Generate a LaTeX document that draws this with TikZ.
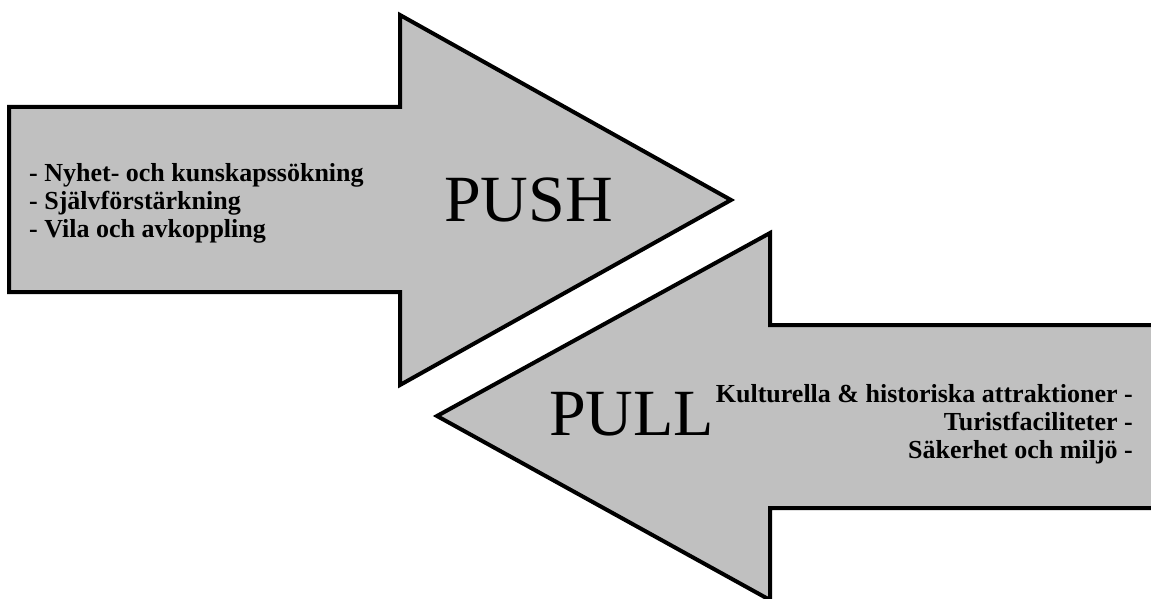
\documentclass[tikz,border=0pt]{standalone}
\usepackage{fontspec}
\setmainfont{Liberation Serif}
\definecolor{arrowgray}{RGB}{192,192,192}
\tikzset{
  bigarrow/.style={fill=arrowgray, draw=black, line width=4pt, line join=miter},
  bigword/.style={inner sep=0pt, font=\fontsize{66}{66}\selectfont},
  listline/.style={inner sep=0pt, font=\bfseries\fontsize{26}{28}\selectfont}
}
\begin{document}
\begin{tikzpicture}[x=1pt,y=-1pt]
\useasboundingbox (0,0) rectangle (1151,599);
\clip (0,0) rectangle (1151,599);
% PUSH arrow
\draw[bigarrow] (9,107) -- (400,107) -- (400,15) -- (731,200) -- (400,385) -- (400,292) -- (9,292) -- cycle;
% PULL arrow
\draw[bigarrow] (437,416) -- (770,233) -- (770,325) -- (1170,325) -- (1170,508) -- (770,508) -- (770,600) -- cycle;
% labels
\node[bigword, anchor=base west] (push) at (444,221) {PUSH};
\node[bigword, anchor=base west] (pull) at (549,435) {PULL};
\node[listline, anchor=base west] (l1) at (29,181) {- Nyhet- och kunskapssökning};
\node[listline, anchor=base west] (l2) at (29,209) {- Självförstärkning};
\node[listline, anchor=base west] (l3) at (29,237) {- Vila och avkoppling};
\node[listline, anchor=base east] (r1) at (1133,402) {Kulturella \& historiska attraktioner -};
\node[listline, anchor=base east] (r2) at (1133,430) {Turistfaciliteter -};
\node[listline, anchor=base east] (r3) at (1133,458) {Säkerhet och miljö -};
\end{tikzpicture}
\end{document}
